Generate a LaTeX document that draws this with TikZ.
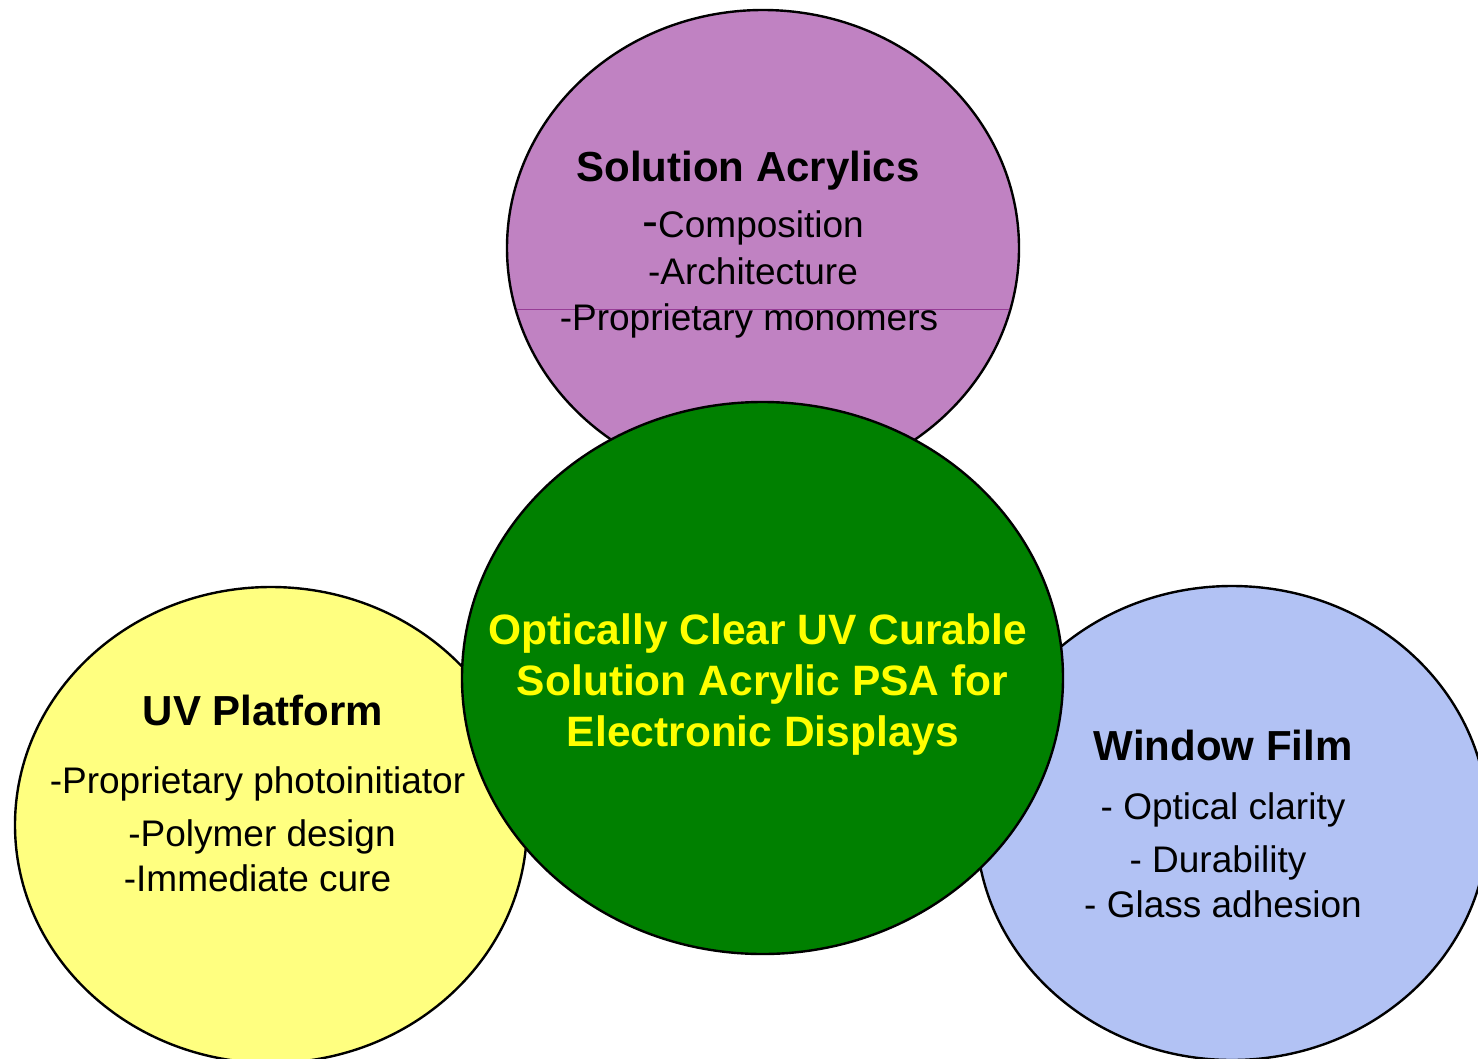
\documentclass[tikz,border=0pt]{standalone}
\usepackage{fontspec}
\setmainfont{Liberation Sans}
\usetikzlibrary{shapes.geometric}
\definecolor{purplefill}{RGB}{192,130,194}
\definecolor{purpleline}{RGB}{150,60,150}
\definecolor{yellowfill}{RGB}{255,255,128}
\definecolor{bluefill}{RGB}{178,194,244}
\definecolor{greenfill}{RGB}{0,128,0}
\definecolor{ctextcol}{RGB}{255,255,0}
\begin{document}
\begin{tikzpicture}[x=1pt,y=-1pt,
  circ/.style={ellipse,draw=black,line width=2.4pt,inner sep=0pt,outer sep=0pt},
  titletext/.style={anchor=base,inner sep=0pt,font=\fontsize{42}{50}\selectfont\bfseries},
  bodytext/.style={anchor=base,inner sep=0pt,font=\fontsize{37}{44}\selectfont},
  centretext/.style={anchor=base,inner sep=0pt,text=ctextcol,font=\fontsize{42.5}{50}\selectfont\bfseries}]
\useasboundingbox (0,0) rectangle (1478,1058);
\clip (0,0) rectangle (1478,1058);
\fill[white] (0,0) rectangle (1478,1058);

% Solution Acrylics
\node[circ,fill=purplefill,minimum width=512pt,minimum height=476pt] (acry) at (763,248) {};
\begin{scope}
  \clip (763,248) ellipse [x radius=255pt, y radius=237pt];
  \draw[purpleline,line width=1pt] (500,309) -- (1030,309);
\end{scope}
\node[titletext] (acryT) at (748,181) {Solution Acrylics};
\node[bodytext] (acry1) at (753,237) {{\fontsize{48}{48}\selectfont -}Composition};
\node[bodytext] (acry2) at (753,284) {-Architecture};
\node[bodytext] (acry3) at (749,330) {-Proprietary monomers};

% UV Platform
\node[circ,fill=yellowfill,minimum width=512pt,minimum height=476pt] (uv) at (271,825) {};
\node[titletext] (uvT) at (263,725) {UV Platform};
\node[bodytext] (uv1) at (257.5,793) {-Proprietary photoinitiator};
\node[bodytext] (uv2) at (262,846) {-Polymer design};
\node[bodytext] (uv3) at (257.5,891) {-Immediate cure};

% Window Film
\node[circ,fill=bluefill,minimum width=512pt,minimum height=474pt] (win) at (1232,823) {};
\node[titletext] (winT) at (1223,760) {Window Film};
\node[bodytext] (win1) at (1223,819) {- Optical clarity};
\node[bodytext] (win2) at (1218,872) {- Durability};
\node[bodytext] (win3) at (1223,917) {- Glass adhesion};

% Centre
\node[circ,fill=greenfill,minimum width=601pt,minimum height=552pt] (core) at (762.5,678) {};
\node[centretext] (core1) at (757.5,644) {Optically Clear UV Curable};
\node[centretext] (core2) at (762.5,695) {Solution Acrylic PSA for};
\node[centretext] (core3) at (763,746) {Electronic Displays};
\end{tikzpicture}
\end{document}
